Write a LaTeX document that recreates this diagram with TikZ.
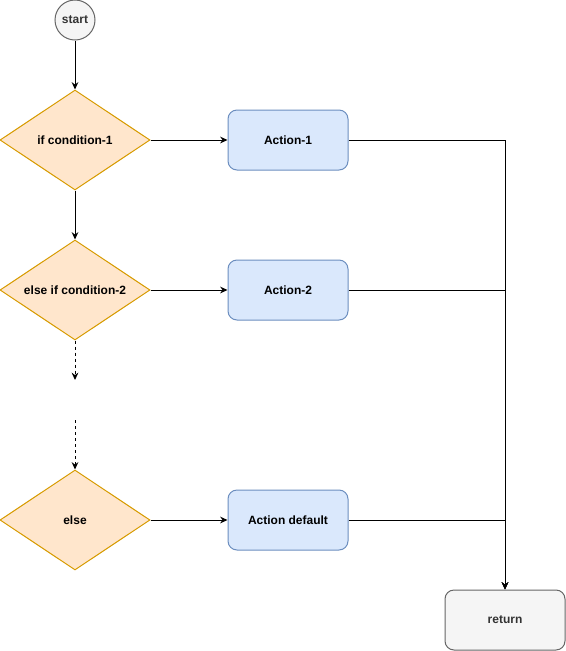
\documentclass[tikz,border=0pt]{standalone}
\usepackage{fontspec}
\setmainfont{Liberation Sans}
\usetikzlibrary{shapes.geometric,arrows.meta}
\definecolor{condfill}{HTML}{FFE6CC}
\definecolor{conddraw}{HTML}{D79B00}
\definecolor{actfill}{HTML}{DAE8FC}
\definecolor{actdraw}{HTML}{6C8EBF}
\definecolor{endfill}{HTML}{F5F5F5}
\definecolor{enddraw}{HTML}{666666}
\definecolor{endtext}{HTML}{333333}
\tikzset{
  cond/.style={diamond, aspect=1.5, draw=conddraw, fill=condfill, line width=0.75pt,
               minimum width=112.5pt, minimum height=75pt, inner sep=0pt},
  condtext/.style={font=\bfseries\fontsize{9}{11}\selectfont},
  action/.style={draw=actdraw, fill=actfill, line width=0.75pt, rounded corners=6.75pt,
                 minimum width=90pt, minimum height=45pt, inner sep=0pt,
                 font=\bfseries\fontsize{9}{11}\selectfont},
  terminal/.style={action, draw=enddraw, fill=endfill, text=endtext},
  startnode/.style={circle, draw=enddraw, fill=endfill, text=endtext, line width=0.75pt,
                    minimum size=30pt, inner sep=0pt, font=\bfseries\fontsize{9}{11}\selectfont},
  flow/.style={line width=0.75pt, -{Stealth[length=5.5pt,width=5pt]}},
  dotflow/.style={flow, dash pattern=on 2.25pt off 2.25pt},
}

\begin{document}
\begin{tikzpicture}[x=0.75pt, y=-0.75pt]
    \useasboundingbox (0,0) rectangle (566,651);
    \node[startnode] (start) at (75,20) {start};
    \node[cond, label={[condtext]center:if condition-1}] (c1) at (75,140) {};
    \node[cond, label={[condtext]center:else if condition-2}] (c2) at (75,290) {};
    \node[cond, label={[condtext]center:else}] (c3) at (75,520) {};
    \node[action] (a1) at (288,140) {Action-1};
    \node[action] (a2) at (288,290) {Action-2};
    \node[action] (a3) at (288,520) {Action default};
    \node[terminal] (ret) at (505,620) {return};
    \coordinate (gap1) at (75,380);
    \coordinate (gap2) at (75,420);
    % main flow
    \draw[flow] (start) -- (c1);
    \draw[flow] (c1) -- (c2);
    \draw[dotflow] (c2) -- (gap1);
    \draw[dotflow] (gap2) -- (c3);
    \draw[flow] (c1) -- (a1);
    \draw[flow] (c2) -- (a2);
    \draw[flow] (c3) -- (a3);
    % all branches end in return
    \draw[flow] (a1) -| (ret);
    \draw[flow] (a2) -| (ret);
    \draw[flow] (a3) -| (ret);
  \end{tikzpicture}
\end{document}
